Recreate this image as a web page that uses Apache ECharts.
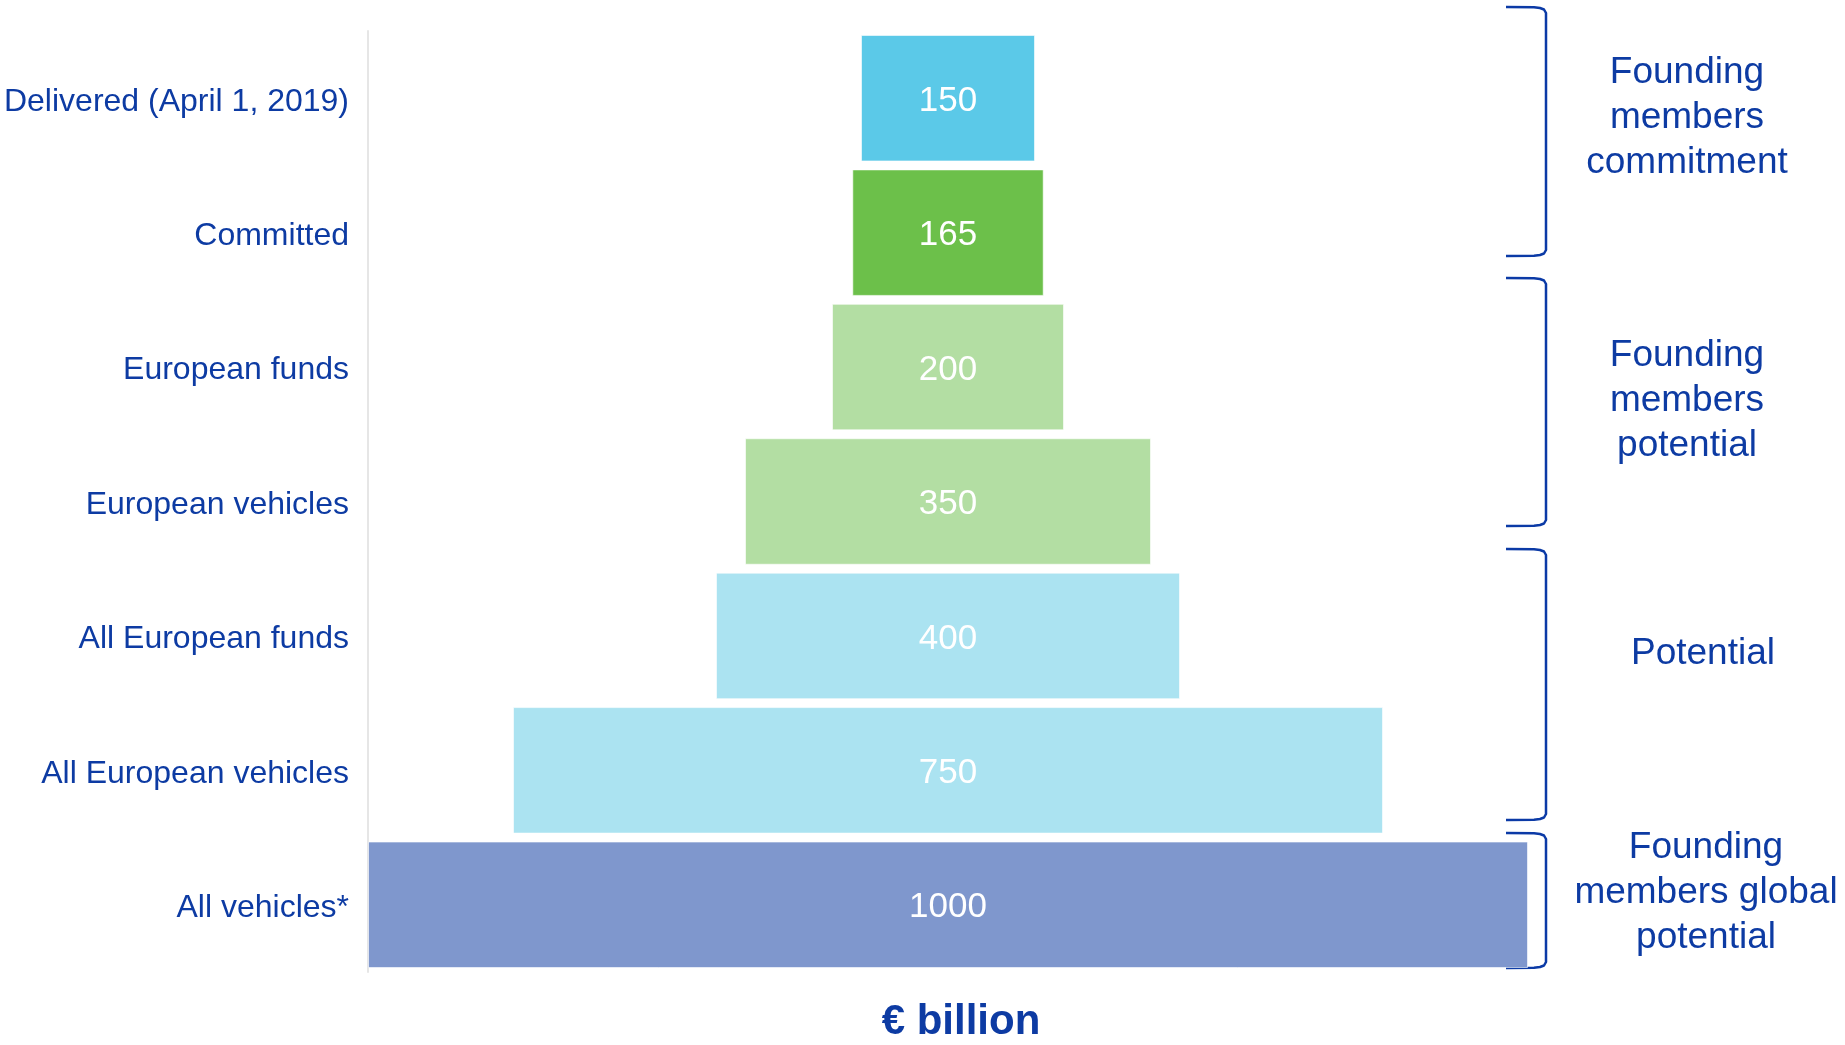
<!DOCTYPE html>
<html>
<head>
<meta charset="utf-8">
<script src="https://cdn.jsdelivr.net/npm/echarts@6/dist/echarts.min.js"></script>
<style>
html,body{margin:0;padding:0;background:#fff;}
#c{width:1845px;height:1045px;}
</style>
</head>
<body>
<div id="c"></div>
<script>
const categories = ['Delivered (April 1, 2019)', 'Committed', 'European funds', 'European vehicles', 'All European funds', 'All European vehicles', 'All vehicles*'];
const values = [150, 165, 200, 350, 400, 750, 1000];
const barColors = ['#5BC9E8', '#6CC04A', '#B3DEA3', '#B3DEA3', '#ABE3F1', '#ABE3F1', '#7F97CD'];
const groupLabels = ['Founding\nmembers\ncommitment', 'Founding\nmembers\npotential', 'Potential', 'Founding\nmembers global\npotential'];
const axisMax = 1000;
const unitLabel = '€ billion';

const TEXT = '#0D3BA3';
const FONT = '"Liberation Sans", Arial, sans-serif';

const offsets = values.map(v => (axisMax - v) / 2);

const chart = echarts.init(document.getElementById('c'), null, {renderer: 'canvas'});

function bracket(x0, x1, y0, y1) {
  return {
    type: 'polyline',
    shape: {
      points: [
        [x0, y0], [x1 - 12, y0 + 0.3], [x1 - 6, y0 + 1], [x1 - 2, y0 + 2.5], [x1, y0 + 6],
        [x1, y1 - 6], [x1 - 2, y1 - 2.5], [x1 - 6, y1 - 1], [x1 - 12, y1 - 0.3], [x0, y1]
      ]
    },
    style: {fill: null, stroke: '#0B3AA6', lineWidth: 2.5, lineJoin: 'round'},
    silent: true
  };
}

function gtext(x, y, t) {
  return {
    type: 'text', x: x, y: y,
    style: {text: t, fill: TEXT, fontSize: 37, fontFamily: FONT, align: 'center', verticalAlign: 'middle', lineHeight: 45},
    silent: true
  };
}

chart.setOption({
  animation: false,
  backgroundColor: '#fff',
  grid: {left: 368, right: 317, top: 31, bottom: 73, containLabel: false},
  xAxis: {type: 'value', min: 0, max: axisMax, show: false},
  yAxis: {
    type: 'category', data: categories, inverse: true,
    axisLine: {show: true, lineStyle: {color: '#E6E6E6', width: 2}},
    axisTick: {show: false},
    axisLabel: {
      margin: 19,
      formatter: v => '{a|' + v + '}',
      rich: {a: {color: TEXT, fontSize: 32, fontFamily: FONT, padding: [7, 0, 0, 0]}}
    }
  },
  series: [
    {
      type: 'bar', stack: 'f', data: offsets, barCategoryGap: '5.9%',
      itemStyle: {color: 'transparent'}, silent: true
    },
    {
      type: 'bar', stack: 'f', barCategoryGap: '5.9%',
      data: values.map((v, i) => ({value: v, itemStyle: {color: barColors[i]}})),
      itemStyle: {borderColor: 'rgba(255,255,255,0.6)', borderWidth: 1},
      label: {show: true, position: 'inside', color: '#fff', fontSize: 35, fontFamily: FONT, offset: [0, 3]}
    }
  ],
  graphic: [
    bracket(1506, 1546, 7, 256),
    bracket(1506, 1546, 278, 526),
    bracket(1506, 1546, 549, 820),
    bracket(1506, 1546, 833, 968),
    gtext(1687, 118, groupLabels[0]),
    gtext(1687, 401, groupLabels[1]),
    gtext(1703, 654, groupLabels[2]),
    gtext(1706, 893, groupLabels[3]),
    {
      type: 'text', x: 961, y: 1022,
      style: {text: unitLabel, fill: TEXT, fontSize: 42, fontWeight: 'bold', fontFamily: FONT, align: 'center', verticalAlign: 'middle'},
      silent: true
    }
  ]
});
</script>
</body>
</html>
